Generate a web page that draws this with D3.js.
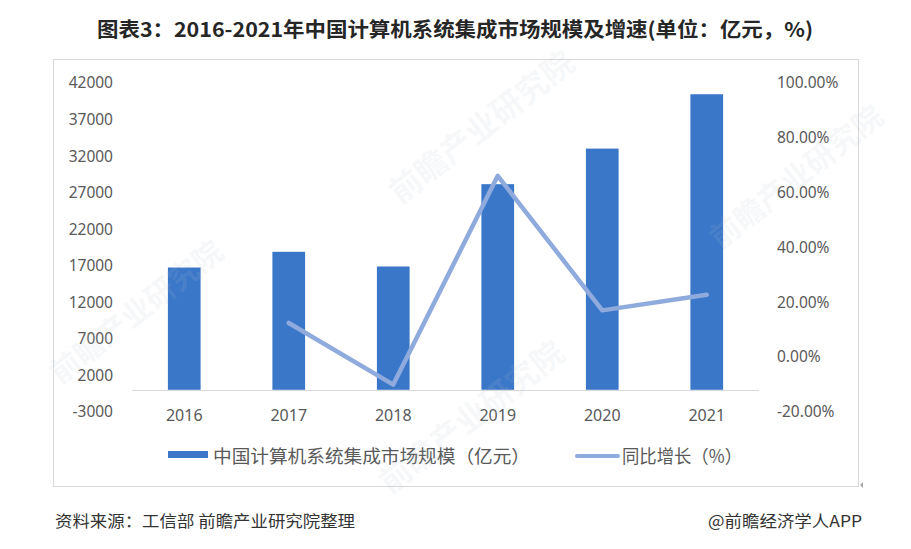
<!DOCTYPE html>
<html>
<head>
<meta charset="utf-8">
<script src="https://cdn.jsdelivr.net/npm/d3@7"></script>
<style>
  html, body { margin: 0; padding: 0; background: #fff; }
  svg { display: block; font-family: "Noto Sans CJK SC", "Noto Sans", sans-serif; }
</style>
</head>
<body>
<svg id="chart" width="911" height="549"></svg>
<script>
// ---- data ----
const years = ["2016", "2017", "2018", "2019", "2020", "2021"];
const marketSize = [16740, 18890, 16880, 28150, 33020, 40460];        // 亿元
const growthYears = ["2017", "2018", "2019", "2020", "2021"];
const growthRate = [12.4, -10.1, 66.1, 17.0, 22.7];                    // %
const leftTicks = [-3000, 2000, 7000, 12000, 17000, 22000, 27000, 32000, 37000, 42000];
const rightTicks = [-20, 0, 20, 40, 60, 80, 100];

const titleText = "图表3：2016-2021年中国计算机系统集成市场规模及增速(单位：亿元，%)";
const legendBar = "中国计算机系统集成市场规模（亿元）";
const legendLine = "同比增长（%）";
const sourceText = "资料来源：工信部 前瞻产业研究院整理";
const brandText = "@前瞻经济学人APP";
const watermarkText = "前瞻产业研究院";

// ---- layout ----
const svg = d3.select("#chart");
const barColor = "#3A77C9";
const lineColor = "#8FAADC";
const axisText = "#595959";

const x = d3.scaleBand().domain(years).range([132, 759]).padding(0);
const yL = d3.scaleLinear().domain([-3000, 42000]).range([411.7, 83]);
const yR = d3.scaleLinear().domain([-20, 100]).range([411.7, 83]);

// chart border
svg.append("rect").attr("x", 53.5).attr("y", 59.5).attr("width", 805).attr("height", 427)
  .attr("fill", "none").attr("stroke", "#d9d9d9").attr("stroke-width", 1);

// title
svg.append("text").attr("x", 97).attr("y", 37)
  .attr("textLength", 716).attr("lengthAdjust", "spacingAndGlyphs")
  .attr("font-size", 20).attr("font-weight", "bold").attr("fill", "#262626")
  .text(titleText);

// bars
const barW = x.bandwidth() * 0.313;
svg.append("g").selectAll("rect").data(years).join("rect")
  .attr("x", (d) => x(d) + x.bandwidth() / 2 - barW / 2)
  .attr("width", barW)
  .attr("y", (d, i) => yL(marketSize[i]))
  .attr("height", (d, i) => yL(0) - yL(marketSize[i]))
  .attr("fill", barColor);

// x-axis baseline
svg.append("line").attr("x1", 132).attr("x2", 759)
  .attr("y1", Math.round(yL(0)) + 0.5).attr("y2", Math.round(yL(0)) + 0.5)
  .attr("stroke", "#d9d9d9").attr("stroke-width", 1);

// line
const line = d3.line()
  .x((d, i) => x(growthYears[i]) + x.bandwidth() / 2)
  .y((d) => yR(d));
svg.append("path").datum(growthRate).attr("d", line)
  .attr("fill", "none").attr("stroke", lineColor).attr("stroke-width", 4.5)
  .attr("stroke-linecap", "round").attr("stroke-linejoin", "round");

// left axis
const gL = svg.append("g").attr("transform", "translate(113,0)")
  .call(d3.axisLeft(yL).tickValues(leftTicks).tickSize(0).tickPadding(0).tickFormat((d) => String(d)));
gL.select(".domain").remove();
gL.selectAll("text").attr("font-size", 15.5).attr("fill", axisText)
  .attr("font-family", "'Noto Sans', sans-serif");

// right axis
const gR = svg.append("g").attr("transform", "translate(777,0)")
  .call(d3.axisRight(yR).tickValues(rightTicks).tickSize(0).tickPadding(0)
    .tickFormat((d) => d.toFixed(2) + "%"));
gR.select(".domain").remove();
gR.selectAll("text").attr("font-size", 15.5).attr("fill", axisText)
  .attr("font-family", "'Noto Sans', sans-serif");

// bottom axis labels
const gB = svg.append("g").attr("transform", "translate(0,415)")
  .call(d3.axisBottom(x).tickSize(0).tickPadding(0));
gB.select(".domain").remove();
gB.selectAll("text").attr("y", 0).attr("dy", "0.35em").attr("font-size", 16).attr("fill", axisText)
  .attr("font-family", "'Noto Sans', sans-serif");

// legend
svg.append("rect").attr("x", 168).attr("y", 451).attr("width", 40).attr("height", 7).attr("fill", barColor);
svg.append("text").attr("x", 213).attr("y", 455).attr("dominant-baseline", "central")
  .attr("font-size", 18).attr("fill", axisText)
  .attr("textLength", 317).attr("lengthAdjust", "spacingAndGlyphs")
  .text(legendBar);
svg.append("line").attr("x1", 577).attr("x2", 618).attr("y1", 456).attr("y2", 456)
  .attr("stroke", lineColor).attr("stroke-width", 4).attr("stroke-linecap", "round");
svg.append("text").attr("x", 622).attr("y", 455).attr("dominant-baseline", "central")
  .attr("font-size", 18).attr("fill", axisText)
  .attr("textLength", 120).attr("lengthAdjust", "spacingAndGlyphs")
  .text(legendLine);

// faint watermarks
const wm = [
  { cx: 480, cy: 125, size: 32 },
  { cx: 135, cy: 310, size: 30 },
  { cx: 795, cy: 175, size: 30 },
  { cx: 470, cy: 415, size: 32 }
];
const gW = svg.append("g").attr("pointer-events", "none");
wm.forEach((w) => {
  gW.append("text").attr("x", w.cx).attr("y", w.cy)
    .attr("text-anchor", "middle").attr("dominant-baseline", "central")
    .attr("transform", `rotate(-38,${w.cx},${w.cy})`)
    .attr("font-size", w.size).attr("font-weight", "bold")
    .attr("fill", "#b8c0cc").attr("fill-opacity", 0.13)
    .text(watermarkText);
});

// footer
svg.append("text").attr("x", 55).attr("y", 520).attr("dominant-baseline", "central")
  .attr("font-size", 16).attr("fill", "#333")
  .attr("textLength", 300).attr("lengthAdjust", "spacingAndGlyphs")
  .text(sourceText);
svg.append("text").attr("x", 708).attr("y", 520).attr("dominant-baseline", "central")
  .attr("font-size", 16).attr("fill", "#333")
  .attr("textLength", 154).attr("lengthAdjust", "spacingAndGlyphs")
  .text(brandText);

// small corner marker
svg.append("path").attr("d", "M863,482 L860,485 L863,488 Z").attr("fill", "#aaa");
</script>
</body>
</html>
